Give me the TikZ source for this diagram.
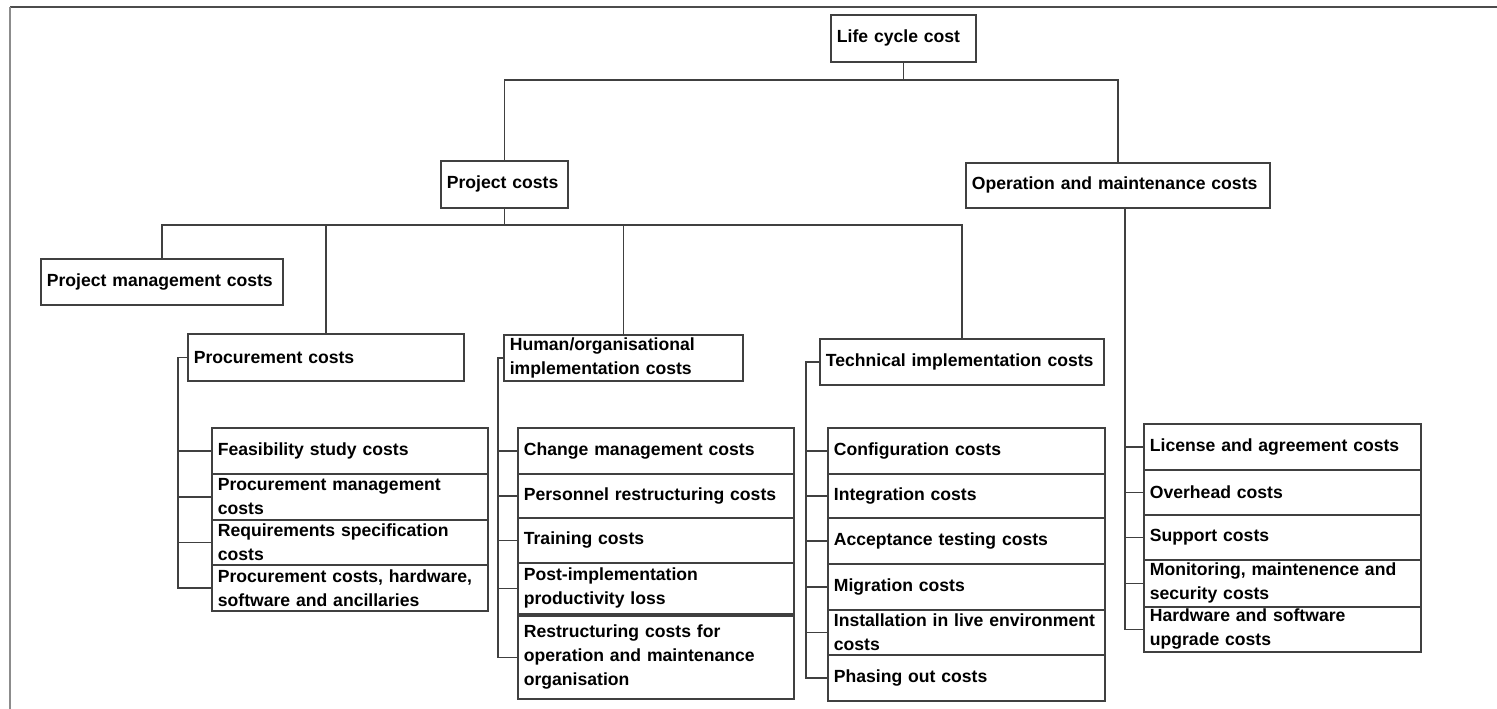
\documentclass[tikz,border=0pt]{standalone}
\usepackage{fontspec}
\setmainfont{Liberation Sans}

\tikzset{
  costbox/.style={draw=black!75, line width=1.7pt, anchor=north west, inner xsep=6pt, inner ysep=0pt,
    align=left, font=\bfseries\fontsize{17.6}{24}\selectfont},
  link/.style={draw=black!75, line width=1.7pt},
}

\begin{document}
\begin{tikzpicture}[x=1pt,y=-1pt]
\useasboundingbox (0,0) rectangle (1497,709);
\draw[black!70, line width=2pt] (1497,7) -- (10,7);
\draw[black!45, line width=2.4pt] (10,7) -- (10,709);

% top levels
\node[costbox, text width=133pt, minimum height=47pt] (life) at (830,14) {Life cycle cost};
\node[costbox, text width=115pt, minimum height=47pt] (proj) at (440,160) {Project costs};
\node[costbox, text width=292pt, minimum height=45pt] (om) at (965,162) {Operation and maintenance costs};
\node[costbox, text width=230pt, minimum height=46pt] (pm) at (40,258) {Project management costs};
\node[costbox, text width=264pt, minimum height=47pt] (proc) at (187,333) {Procurement costs};
\node[costbox, text width=227pt, minimum height=46pt] (hum) at (503,334) {Human/organisational\\implementation costs};
\node[costbox, text width=272pt, minimum height=46pt] (tech) at (819,338) {Technical implementation costs};

% lists
\foreach \n/\y/\h/\txt in {f1/427/46/{Feasibility study costs}, f2/473/46/{Procurement management\\costs},
    f3/519/45/{Requirements specification\\costs}, f4/564/46/{Procurement costs, hardware,\\software and ancillaries}}
  \node[costbox, text width=264pt, minimum height=\h pt] (\n) at (211,\y) {\txt};
\foreach \n/\y/\h/\txt in {h1/427/46/{Change management costs}, h2/473/44/{Personnel restructuring costs},
    h3/517/45/{Training costs}, h4/562/51/{Post-implementation\\productivity loss},
    h5/615/83/{Restructuring costs for\\operation and maintenance\\organisation}}
  \node[costbox, text width=264pt, minimum height=\h pt] (\n) at (517,\y) {\txt};
\foreach \n/\y/\h/\txt in {t1/427/46/{Configuration costs}, t2/473/44/{Integration costs},
    t3/517/46/{Acceptance testing costs}, t4/563/46/{Migration costs},
    t5/609/45/{Installation in live environment\\costs}, t6/654/46/{Phasing out costs}}
  \node[costbox, text width=265pt, minimum height=\h pt] (\n) at (827,\y) {\txt};
\foreach \n/\y/\h/\txt in {o1/423/46/{License and agreement costs}, o2/469/45/{Overhead costs},
    o3/514/45/{Support costs}, o4/559/47/{Monitoring, maintenence and\\security costs},
    o5/606/45/{Hardware and software\\upgrade costs}}
  \node[costbox, text width=265pt, minimum height=\h pt] (\n) at (1143,\y) {\txt};

% connectors
\draw[link] (life.south) -- ++(0,17) -| (proj.north);
\draw[link] (life.south) -- ++(0,17) -| (om.north);
\path (proj.south) ++(0,16) coordinate (pbar);
\foreach \n in {pm,proc,hum,tech}
  \draw[link] (proj.south) -- (pbar) -| (\n.north);
\foreach \n in {f1,f2,f3,f4}
  \draw[link] (proc.west) -- ++(-9,0) |- (\n.west);
\foreach \n in {h1,h2,h3,h4,h5}
  \draw[link] (hum.west) -- ++(-5,0) |- (\n.west);
\foreach \n in {t1,t2,t3,t4,t5,t6}
  \draw[link] (tech.west) -- ++(-13,0) |- (\n.west);
\foreach \n in {o1,o2,o3,o4,o5}
  \draw[link] ([xshift=7pt]om.south) |- (\n.west);
\end{tikzpicture}
\end{document}
